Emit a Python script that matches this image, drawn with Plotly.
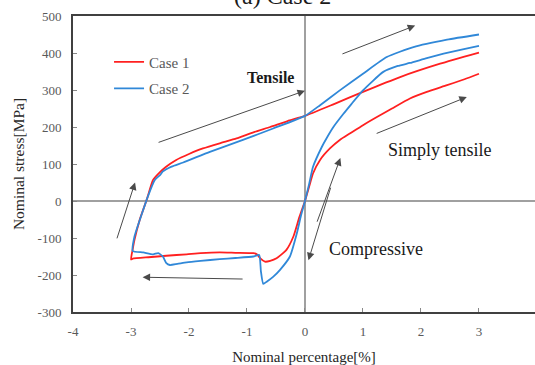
import plotly.graph_objects as go

# Case 1 (red): cyclic path 0 -> -3% -> +3%, and simple tensile path 0 -> 3%
case1_cyc_x = [0, -0.1, -0.2, -0.32, -0.49, -0.6, -0.69, -0.77, -0.83, -0.89, -1.2, -1.47, -1.8, -2.04,
               -2.39, -2.7, -2.97, -3.0, -2.97, -2.94, -2.85, -2.73, -2.62, -2.5, -2.4, -2.22, -2.0,
               -1.76, -1.47, -1.18, -0.9, -0.6, -0.3, 0, 0.5, 1.0, 1.64, 2.33, 3.0]
case1_cyc_y = [0, -45, -96, -132, -155, -162, -164, -155, -144, -141, -140, -139, -141, -144,
               -148, -152, -156, -158, -130, -105, -51, 3, 57, 78, 92, 111, 127,
               142, 156, 169, 185, 200, 216, 230, 262, 295, 335, 371, 401]
case1_ten_x = [0, 0.07, 0.14, 0.26, 0.43, 0.6, 0.78, 1.0, 1.24, 1.5, 1.81, 2.1, 2.45, 2.75, 3.0]
case1_ten_y = [0, 38, 75, 111, 142, 165, 183, 205, 227, 250, 277, 295, 313, 329, 344]

# Case 2 (blue)
case2_cyc_x = [0, -0.07, -0.14, -0.26, -0.43, -0.55, -0.66, -0.72, -0.76, -0.79, -0.89, -1.2, -1.47,
               -1.8, -2.04, -2.2, -2.33, -2.39, -2.45, -2.53, -2.62, -2.79, -2.97, -2.94, -2.82,
               -2.71, -2.59, -2.5, -2.45, -2.3, -2.1, -1.64, -1.07, -0.55, 0, 0.26, 0.6, 1.0,
               1.41, 1.87, 2.45, 3.0]
case2_cyc_y = [0, -40, -87, -150, -186, -205, -218, -224, -190, -146, -150, -154, -157,
               -162, -166, -170, -173, -168, -150, -141, -144, -139, -135, -96, -38,
               12, 57, 70, 80, 93, 104, 133, 165, 196, 230, 259, 299, 344,
               389, 416, 436, 450]
case2_ten_x = [0, 0.07, 0.14, 0.29, 0.37, 0.49, 0.66, 0.8, 1.0, 1.35, 1.6, 1.81, 2.1, 2.39, 2.7, 3.0]
case2_ten_y = [0, 45, 93, 146, 169, 200, 235, 262, 299, 349, 365, 373, 386, 398, 409, 419]

x_ticks = [-4, -3, -2, -1, 0, 1, 2, 3, 4]
x_tick_labels = ["-4", "-3", "-2", "-1", "0", "1", "2", "3", "4"]
y_ticks = [-300, -200, -100, 0, 100, 200, 300, 400, 500]
y_tick_labels = ["-300", "-200", "-100", "0", "100", "200", "300", "400", "500"]

RED = "#FF2020"
BLUE = "#3088D8"
FONT = "Liberation Serif"
GRAY_TXT = "#595959"
DARK_TXT = "#262626"

LINE = dict(width=1.8, shape="spline", smoothing=0.5)

fig = go.Figure()
fig.add_trace(go.Scatter(x=case1_cyc_x, y=case1_cyc_y, mode="lines", name="Case 1",
                         line=dict(color=RED, **LINE), legendgroup="c1"))
fig.add_trace(go.Scatter(x=case1_ten_x, y=case1_ten_y, mode="lines", name="Case 1",
                         line=dict(color=RED, **LINE), legendgroup="c1", showlegend=False))
fig.add_trace(go.Scatter(x=case2_cyc_x, y=case2_cyc_y, mode="lines", name="Case 2",
                         line=dict(color=BLUE, **LINE), legendgroup="c2"))
fig.add_trace(go.Scatter(x=case2_ten_x, y=case2_ten_y, mode="lines", name="Case 2",
                         line=dict(color=BLUE, **LINE), legendgroup="c2", showlegend=False))

arrows = [
    # (head_x, head_y, tail_x, tail_y)
    (0.0, 298, -2.55, 157),
    (1.9, 474, 0.62, 396),
    (2.79, 281, 1.21, 181),
    (0.61, 116, 0.2, -60),
    (0.06, -160, 0.45, 40),
    (-2.8, -206, -1.05, -211),
    (-2.93, 50, -3.25, -105),
]
for hx, hy, tx, ty in arrows:
    fig.add_annotation(x=hx, y=hy, ax=tx, ay=ty, xref="x", yref="y", axref="x", ayref="y",
                       showarrow=True, arrowhead=2, arrowsize=1.5, arrowwidth=1,
                       arrowcolor="#4a4a4a", text="")

labels = [
    ("<b>Tensile</b>", -0.6, 334, 16),
    ("Simply tensile", 2.33, 137, 18),
    ("Compressive", 1.22, -129, 18),
]
for t, lx, ly, fs in labels:
    fig.add_annotation(x=lx, y=ly, xref="x", yref="y", text=t, showarrow=False,
                       font=dict(family=FONT, size=fs, color="#1a1a1a"))

fig.add_annotation(x=(283 - 73) / 464, y=0.017, xref="paper", yref="paper", yanchor="bottom",
                   text="(a) Case 2", showarrow=False, font=dict(family=FONT, size=24, color="#1a1a1a"))
# keep title just above the plot frame
fig.layout.annotations[-1].y = 1.017

fig.update_layout(
    width=535, height=365,
    margin=dict(l=73, r=0, t=16, b=53),
    paper_bgcolor="white", plot_bgcolor="white",
    font=dict(family=FONT, size=13, color=GRAY_TXT),
    legend=dict(x=0.078, y=0.9, xanchor="left", yanchor="top", bgcolor="rgba(0,0,0,0)",
                font=dict(family=FONT, size=15, color=GRAY_TXT), tracegroupgap=4),
    xaxis=dict(range=[-4, 3.966], tickvals=x_ticks, ticktext=x_tick_labels,
               ticks="inside", ticklen=4, tickcolor="#888888", ticklabelstandoff=6,
               showgrid=False, zeroline=True, zerolinecolor="#A0A0A0", zerolinewidth=1.5,
               showline=True, linecolor="#404040", linewidth=2, mirror=True, automargin=False,
               tickfont=dict(family=FONT, size=13, color=GRAY_TXT),
               title=dict(text="Nominal percentage[%]", font=dict(family=FONT, size=15, color=DARK_TXT))),
    yaxis=dict(range=[-300, 500], tickvals=y_ticks, ticktext=y_tick_labels,
               ticks="inside", ticklen=4, tickcolor="#888888", ticklabelstandoff=7,
               showgrid=False, zeroline=True, zerolinecolor="#A0A0A0", zerolinewidth=1.5,
               showline=True, linecolor="#404040", linewidth=2, automargin=False,
               tickfont=dict(family=FONT, size=13, color=GRAY_TXT),
               title=dict(text="Nominal stress[MPa]", standoff=9,
                          font=dict(family=FONT, size=15.5, color=DARK_TXT))),
)

fig.write_html("out.html", config={"displayModeBar": False},
               post_script="document.body.style.margin='0';document.body.style.overflow='hidden';")
